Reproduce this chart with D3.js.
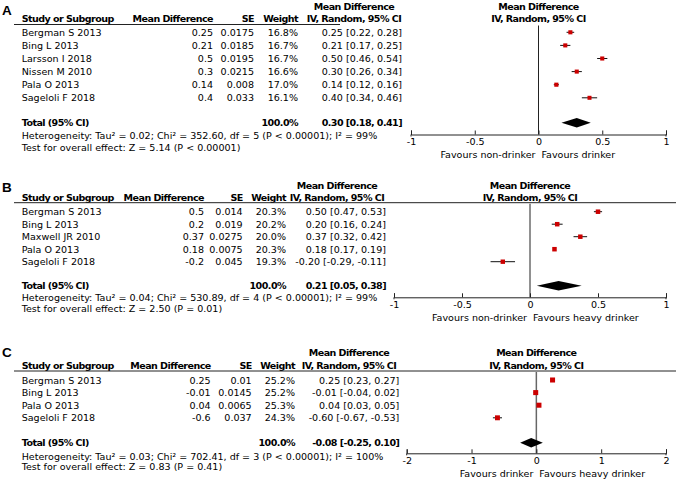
<!DOCTYPE html>
<html>
<head>
<meta charset="utf-8">
<script src="https://cdn.jsdelivr.net/npm/d3@7/dist/d3.min.js"></script>
<style>
  html, body { margin: 0; padding: 0; background: #fff; }
  svg { display: block; }
  text { font-family: "DejaVu Sans", sans-serif; font-size: 9.55px; fill: #000; }
  .b { font-weight: bold; letter-spacing: -0.55px; }
</style>
</head>
<body>
<svg id="chart" width="676" height="481"></svg>
<script>
// ---------- DATA ----------
// Panel A
const studiesA = ["Bergman S 2013", "Bing L 2013", "Larsson I 2018", "Nissen M 2010", "Pala O 2013", "Sageloli F 2018"];
const mdA = [0.25, 0.21, 0.5, 0.3, 0.14, 0.4];
const seA = [0.0175, 0.0185, 0.0195, 0.0215, 0.008, 0.033];
const weightA = [16.8, 16.7, 16.7, 16.6, 17.0, 16.1];
const loA = [0.22, 0.17, 0.46, 0.26, 0.12, 0.34];
const hiA = [0.28, 0.25, 0.54, 0.34, 0.16, 0.46];
const totalA = [0.30, 0.18, 0.41];
const hetA = "Heterogeneity: Tau² = 0.02; Chi² = 352.60, df = 5 (P < 0.00001); I² = 99%";
const testA = "Test for overall effect: Z = 5.14 (P < 0.00001)";
const favoursA = ["Favours non-drinker", "Favours drinker"];
const ticksA = [-1, -0.5, 0, 0.5, 1];

// Panel B
const studiesB = ["Bergman S 2013", "Bing L 2013", "Maxwell JR 2010", "Pala O 2013", "Sageloli F 2018"];
const mdB = [0.5, 0.2, 0.37, 0.18, -0.2];
const seB = [0.014, 0.019, 0.0275, 0.0075, 0.045];
const weightB = [20.3, 20.2, 20.0, 20.3, 19.3];
const loB = [0.47, 0.16, 0.32, 0.17, -0.29];
const hiB = [0.53, 0.24, 0.42, 0.19, -0.11];
const totalB = [0.21, 0.05, 0.38];
const hetB = "Heterogeneity: Tau² = 0.04; Chi² = 530.89, df = 4 (P < 0.00001); I² = 99%";
const testB = "Test for overall effect: Z = 2.50 (P = 0.01)";
const favoursB = ["Favours non-drinker", "Favours heavy drinker"];
const ticksB = [-1, -0.5, 0, 0.5, 1];

// Panel C
const studiesC = ["Bergman S 2013", "Bing L 2013", "Pala O 2013", "Sageloli F 2018"];
const mdC = [0.25, -0.01, 0.04, -0.6];
const seC = [0.01, 0.0145, 0.0065, 0.037];
const weightC = [25.2, 25.2, 25.3, 24.3];
const loC = [0.23, -0.04, 0.03, -0.67];
const hiC = [0.27, 0.02, 0.05, -0.53];
const totalC = [-0.08, -0.25, 0.10];
const hetC = "Heterogeneity: Tau² = 0.03; Chi² = 702.41, df = 3 (P < 0.00001); I² = 100%";
const testC = "Test for overall effect: Z = 0.83 (P = 0.41)";
const favoursC = ["Favours drinker", "Favours heavy drinker"];
const ticksC = [-2, -1, 0, 1, 2];

// ---------- DRAW ----------
const svg = d3.select("#chart");
const BL = 3.5; // baseline offset from visual centre

const fmt2 = v => v.toFixed(2);
const ciText = (m, l, h) => `${fmt2(m)} [${fmt2(l)}, ${fmt2(h)}]`;

function drawPanel(p) {
  const g = svg.append("g");
  const t = (x, y, s, anchor, bold) =>
    g.append("text").attr("x", x).attr("y", y + BL).attr("text-anchor", anchor || "start")
      .attr("class", bold ? "b" : null).text(s);

  // panel letter
  g.append("text").attr("x", 2).attr("y", p.letterY + 4.6)
    .style("font-family", '"Liberation Sans", Arial, sans-serif').style("font-weight", "bold")
    .style("font-size", "13.5px").text(p.letter);

  // headers
  const pc = p.plot[0] / 2 + p.plot[1] / 2;
  t(p.ciCenter, p.h1, "Mean Difference", "middle", true);
  t(pc, p.h1, "Mean Difference", "middle", true);
  t(p.studyX, p.h2, "Study or Subgroup", "start", true);
  t(p.mdRight, p.h2, "Mean Difference", "end", true);
  t(p.seRight, p.h2, "SE", "end", true);
  t(p.wRight, p.h2, "Weight", "end", true);
  t(p.ciCenter, p.h2, "IV, Random, 95% CI", "middle", true);
  t(pc, p.h2, "IV, Random, 95% CI", "middle", true);

  g.append("line").attr("x1", 14).attr("x2", p.lineEnd)
    .attr("y1", p.lineY).attr("y2", p.lineY).attr("stroke", "#222").attr("stroke-width", 1);

  const x = d3.scaleLinear().domain(p.domain).range(p.plot);
  const yRow = i => p.row0 + i * p.rowStep;

  // zero line
  g.append("line").attr("x1", x(0)).attr("x2", x(0))
    .attr("y1", p.lineY + 1).attr("y2", p.axisY)
    .attr("stroke", p.zeroColor).attr("stroke-width", p.zeroWidth);

  const maxW = 25;
  p.studies.forEach((s, i) => {
    const y = yRow(i);
    t(p.studyX, y, s);
    t(p.mdRight, y, String(p.md[i]), "end");
    t(p.seRight, y, String(p.se[i]), "end");
    t(p.wRight, y, p.w[i].toFixed(1) + "%", "end");
    t(p.ciRight, y, ciText(p.md[i], p.lo[i], p.hi[i]), "end");

    g.append("line").attr("x1", x(p.lo[i])).attr("x2", x(p.hi[i]))
      .attr("y1", y).attr("y2", y).attr("stroke", "#111").attr("stroke-width", 1);
    const sz = 5 * Math.sqrt(p.w[i] / maxW);
    g.append("rect").attr("x", x(p.md[i]) - sz / 2).attr("y", y - sz / 2)
      .attr("width", sz).attr("height", sz).attr("fill", "#cc0000");
  });

  // total
  t(p.studyX, p.totalY, "Total (95% CI)", "start", true);
  t(p.wRight, p.totalY, "100.0%", "end", true);
  t(p.ciRight, p.totalY, ciText(p.total[0], p.total[1], p.total[2]), "end", true);
  const dh = 4.8;
  const ty = p.totalY;
  g.append("path")
    .attr("d", `M${x(p.total[1])},${ty}L${x(p.total[0])},${ty - dh}L${x(p.total[2])},${ty}L${x(p.total[0])},${ty + dh}Z`)
    .attr("fill", "#000");

  t(p.studyX, p.hetY, p.het);
  t(p.studyX, p.testY, p.test);

  // axis
  const axis = d3.axisBottom(x).tickValues(p.ticks)
    .tickSizeInner(-4).tickSizeOuter(-4).tickPadding(4)
    .tickFormat(d => String(d));
  const ag = g.append("g").attr("transform", `translate(0,${p.axisY})`).call(axis);
  ag.selectAll("path, line").attr("stroke", "#222");
  ag.selectAll("text").style("font-family", '"DejaVu Sans", sans-serif')
    .style("font-size", "9.55px").attr("fill", "#000");
  // end ticks extend slightly below
  [p.domain[0], p.domain[1]].forEach(v => {
    g.append("line").attr("x1", x(v)).attr("x2", x(v)).attr("y1", p.axisY).attr("y2", p.axisY + 2)
      .attr("stroke", "#222");
  });

  t(x(0) - 3, p.axisY + 20, p.favours[0], "end");
  t(x(0) + 3, p.axisY + 20, p.favours[1], "start");
}

drawPanel({
  letter: "A", letterY: 10.5, h1: 6, h2: 18, lineY: 24.5, lineEnd: 340,
  studyX: 21.7, mdRight: 213, seRight: 254, wRight: 298, ciRight: 402, ciCenter: 354,
  plot: [411, 666], domain: [-1, 1], ticks: ticksA,
  row0: 32.3, rowStep: 13.1, totalY: 122.7, hetY: 135, testY: 147, axisY: 134.5,
  zeroColor: "#222", zeroWidth: 1,
  studies: studiesA, md: mdA, se: seA, w: weightA, lo: loA, hi: hiA, total: totalA,
  het: hetA, test: testA, favours: favoursA
});

drawPanel({
  letter: "B", letterY: 187.5, h1: 185, h2: 197, lineY: 202.7, lineEnd: 676,
  studyX: 21.7, mdRight: 204, seRight: 242.7, wRight: 286, ciRight: 386, ciCenter: 337,
  plot: [394, 666], domain: [-1, 1], ticks: ticksB,
  row0: 211.7, rowStep: 12.5, totalY: 285.7, hetY: 297.7, testY: 308.3, axisY: 297.3,
  zeroColor: "#222", zeroWidth: 1,
  studies: studiesB, md: mdB, se: seB, w: weightB, lo: loB, hi: hiB, total: totalB,
  het: hetB, test: testB, favours: favoursB
});

drawPanel({
  letter: "C", letterY: 352.7, h1: 352.7, h2: 365, lineY: 371, lineEnd: 676,
  studyX: 21.7, mdRight: 210.7, seRight: 251.7, wRight: 295, ciRight: 399.3, ciCenter: 349,
  plot: [406.7, 666], domain: [-2, 2], ticks: ticksC,
  row0: 380, rowStep: 12.6, totalY: 442.7, hetY: 456, testY: 466.7, axisY: 453.3,
  zeroColor: "#666", zeroWidth: 1.5,
  studies: studiesC, md: mdC, se: seC, w: weightC, lo: loC, hi: hiC, total: totalC,
  het: hetC, test: testC, favours: favoursC
});
</script>
</body>
</html>
